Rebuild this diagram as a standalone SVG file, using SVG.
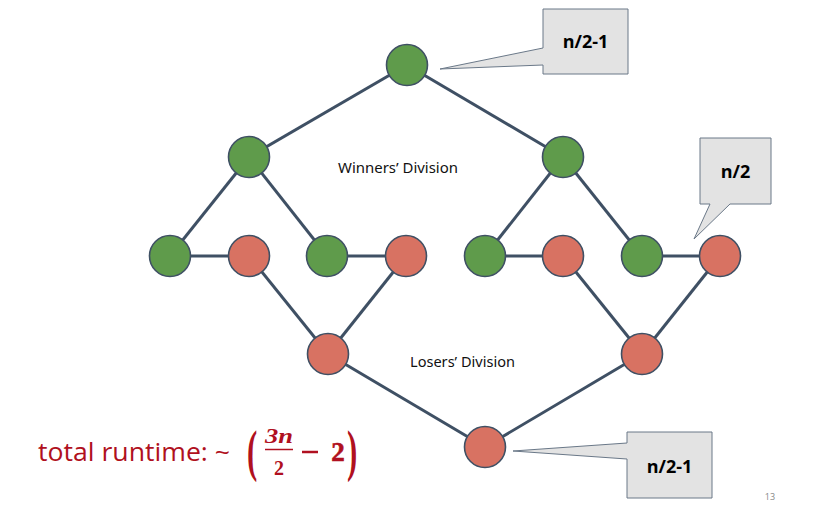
<svg xmlns="http://www.w3.org/2000/svg" width="837" height="513" viewBox="0 0 837 513">
<style>
.e{stroke:#3f5064;stroke-width:3;fill:none}
.g{fill:#5f9b4b;stroke:#3f5064;stroke-width:1.6}
.r{fill:#d87262;stroke:#3f5064;stroke-width:1.6}
.c{fill:#e3e3e3;stroke:#6a7888;stroke-width:1}
.ct{font-family:"Open Sans","Liberation Sans",sans-serif;font-weight:bold;font-size:18px;fill:#000;text-anchor:middle}
.lb{font-family:"Noto Sans","Liberation Sans",sans-serif;font-size:14px;fill:#111}
.m{font-family:"Liberation Serif",serif;font-weight:700;fill:#b01020}
</style>
<rect width="837" height="513" fill="#fff"/>
<g id="connectors">
<line class="e" x1="407" y1="65" x2="249" y2="157"/>
<line class="e" x1="407" y1="65" x2="563" y2="157"/>
<line class="e" x1="249" y1="157" x2="170" y2="256"/>
<line class="e" x1="249" y1="157" x2="327" y2="256"/>
<line class="e" x1="563" y1="157" x2="485" y2="256"/>
<line class="e" x1="563" y1="157" x2="642" y2="256"/>
<line class="e" x1="170" y1="256" x2="249" y2="256"/>
<line class="e" x1="327" y1="256" x2="406" y2="256"/>
<line class="e" x1="485" y1="256" x2="563" y2="256"/>
<line class="e" x1="642" y1="256" x2="720" y2="256"/>
<line class="e" x1="249" y1="256" x2="328" y2="354"/>
<line class="e" x1="406" y1="256" x2="328" y2="354"/>
<line class="e" x1="563" y1="256" x2="642" y2="354"/>
<line class="e" x1="720" y1="256" x2="642" y2="354"/>
<line class="e" x1="328" y1="354" x2="485" y2="447"/>
<line class="e" x1="642" y1="354" x2="485" y2="447"/>
</g>
<g id="n_top"><circle class="g" cx="407" cy="65" r="20.5"/></g>
<g id="n_w1"><circle class="g" cx="249" cy="157" r="20.5"/></g>
<g id="n_w2"><circle class="g" cx="563" cy="157" r="20.5"/></g>
<g id="n_a1"><circle class="g" cx="170" cy="256" r="20.5"/></g>
<g id="n_a2"><circle class="r" cx="249" cy="256" r="20.5"/></g>
<g id="n_a3"><circle class="g" cx="327" cy="256" r="20.5"/></g>
<g id="n_a4"><circle class="r" cx="406" cy="256" r="20.5"/></g>
<g id="n_a5"><circle class="g" cx="485" cy="256" r="20.5"/></g>
<g id="n_a6"><circle class="r" cx="563" cy="256" r="20.5"/></g>
<g id="n_a7"><circle class="g" cx="642" cy="256" r="20.5"/></g>
<g id="n_a8"><circle class="r" cx="720" cy="256" r="20.5"/></g>
<g id="n_l1"><circle class="r" cx="328" cy="354" r="20.5"/></g>
<g id="n_l2"><circle class="r" cx="642" cy="354" r="20.5"/></g>
<g id="n_bot"><circle class="r" cx="485" cy="447" r="20.5"/></g>
<g id="labels">
<text class="lb" x="338" y="173" textLength="120" lengthAdjust="spacingAndGlyphs">Winners’ Division</text>
<text class="lb" x="410" y="367" textLength="105" lengthAdjust="spacingAndGlyphs">Losers’ Division</text>
</g>
<g id="callout_top">
<path class="c" d="M543,9 H628 V74 H543 V65 L440,69 L543,48 Z"/>
<text class="ct" x="585.5" y="48">n/2-1</text>
</g>
<g id="callout_right">
<path class="c" d="M700,138 H771 V204 H730 L694,239 L710,204 H700 Z"/>
<text class="ct" x="735.5" y="178">n/2</text>
</g>
<g id="callout_bottom">
<path class="c" d="M627,432 H712 V498 H627 V459 L513,451 L627,443 Z"/>
<text class="ct" x="669.5" y="473">n/2-1</text>
</g>
<g id="runtime">
<text x="38" y="461" font-family="'Open Sans','Liberation Sans',sans-serif" font-size="26" fill="#b01020" textLength="192" lengthAdjust="spacingAndGlyphs" style="font-variant-ligatures:none">total runtime: ~</text>
<text class="m" x="247" y="470" font-size="56" font-weight="normal" transform="translate(247,470) scale(0.55,1) translate(-247,-470)">(</text>
<text class="m" x="265" y="443" font-size="20" font-style="italic" textLength="28" lengthAdjust="spacingAndGlyphs">3n</text>
<line x1="265" y1="449.5" x2="293" y2="449.5" stroke="#b01020" stroke-width="1.5"/>
<text class="m" x="279" y="475" font-size="20" text-anchor="middle">2</text>
<line x1="302" y1="452" x2="318" y2="452" stroke="#b01020" stroke-width="2.5"/>
<text class="m" x="338" y="461" font-size="27" text-anchor="middle" stroke="#b01020" stroke-width="0.6">2</text>
<text class="m" x="347" y="470" font-size="56" font-weight="normal" transform="translate(347,470) scale(0.55,1) translate(-347,-470)">)</text>
</g>
<text x="770" y="500" font-family="'Open Sans','Liberation Sans',sans-serif" font-size="9" fill="#888" text-anchor="middle">13</text>
</svg>
